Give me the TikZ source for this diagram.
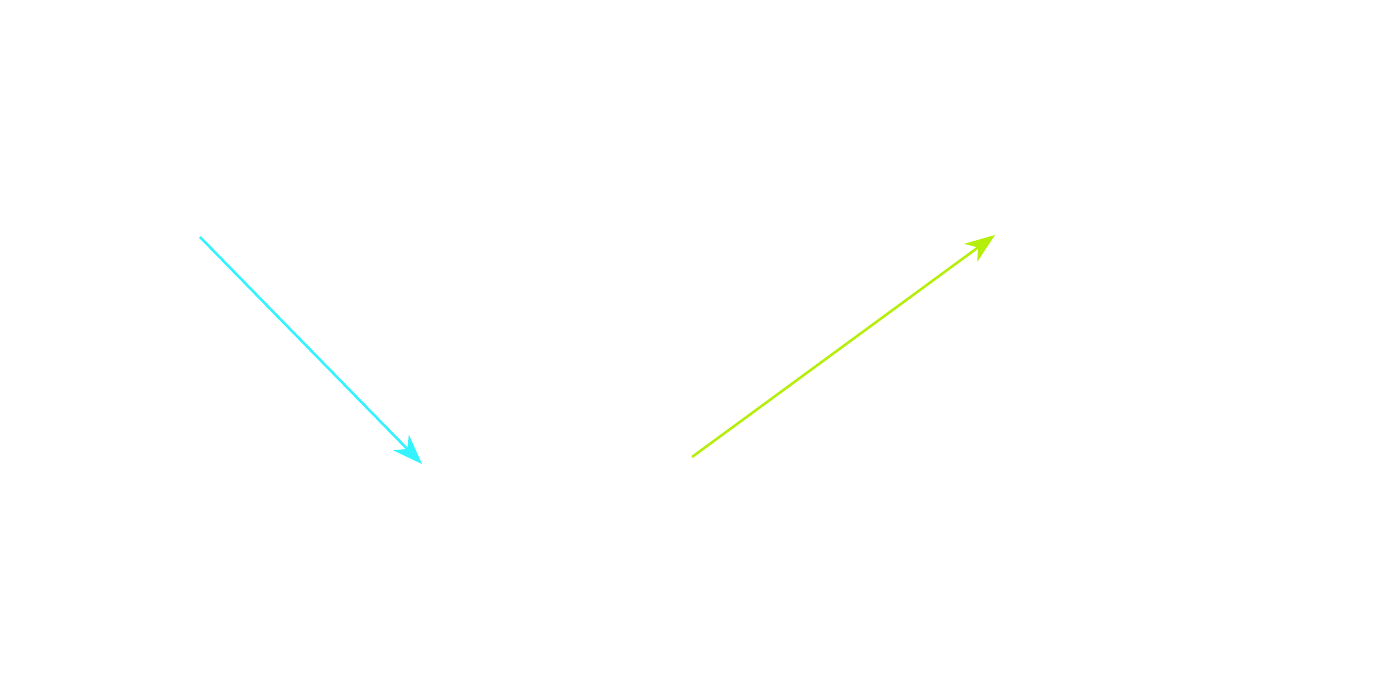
\documentclass[tikz,border=0pt]{standalone}
\usetikzlibrary{arrows.meta}
\definecolor{cyanA}{HTML}{33F3FF}
\definecolor{limeA}{HTML}{B5EE0A}
\tikzset{
  vec/.style={line width=2.5pt, -{Stealth[length=30pt,width=22pt,inset=9pt]}},
}
\begin{document}
\begin{tikzpicture}[x=1pt,y=-1pt]
\useasboundingbox (0,0) rectangle (1400,700);
\coordinate (a1) at (200,237);
\coordinate (a2) at (422,464);
\coordinate (b1) at (692,457);
\coordinate (b2) at (995,235);
\draw[vec, draw=cyanA, fill=cyanA] (a1) -- (a2);
\draw[vec, draw=limeA, fill=limeA] (b1) -- (b2);
\end{tikzpicture}
\end{document}
